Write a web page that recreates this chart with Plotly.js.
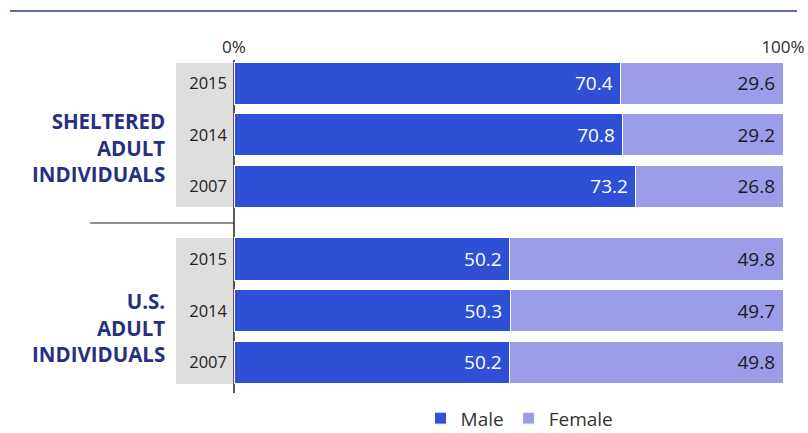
<!DOCTYPE html>
<html>
<head>
<meta charset="utf-8">
<script src="https://cdn.plot.ly/plotly-3.0.1.min.js"></script>
<style>html,body{margin:0;padding:0;background:#fff;}#chart{width:808px;height:433px;}</style>
</head>
<body>
<div id="chart"></div>
<script>
var years = ['2015', '2014', '2007'];
var shelteredMale = [70.4, 70.8, 73.2];
var shelteredFemale = [29.6, 29.2, 26.8];
var usMale = [50.2, 50.3, 50.2];
var usFemale = [49.8, 49.7, 49.8];
var groupLabels = ['SHELTERED<br>ADULT<br>INDIVIDUALS', 'U.S.<br>ADULT<br>INDIVIDUALS'];
var tickVals = [0, 100];
var tickText = ['0%', '100%'];

var maleColor = '#2f4fd6';
var femaleColor = '#9c9de8';
var fontFam = '"Open Sans", Lato, sans-serif';

function barTrace(x, name, color, textColor, yaxis, showlegend) {
  return {
    type: 'bar', orientation: 'h', x: x, y: years, name: name,
    xaxis: 'x', yaxis: yaxis, legendgroup: name, showlegend: showlegend,
    marker: {color: color, line: {color: '#ffffff', width: 1}},
    text: x.map(function (v) { return v.toFixed(1) + '\u00a0'; }),
    textposition: 'inside', insidetextanchor: 'end', textangle: 0,
    constraintext: 'none',
    textfont: {family: fontFam, size: 19, color: textColor},
    hoverinfo: 'x+y+name'
  };
}

var data = [
  barTrace(shelteredMale, 'Male', maleColor, '#ffffff', 'y', true),
  barTrace(shelteredFemale, 'Female', femaleColor, '#1a1a1a', 'y', true),
  barTrace(usMale, 'Male', maleColor, '#ffffff', 'y2', false),
  barTrace(usFemale, 'Female', femaleColor, '#1a1a1a', 'y2', false)
];

var yCommon = {
  type: 'category', autorange: 'reversed', showgrid: false, zeroline: false,
  showline: false, ticks: '', ticklabelstandoff: 6,
  tickfont: {family: fontFam, size: 16.5, color: '#222'},
  fixedrange: true
};

var layout = {
  width: 808, height: 433,
  margin: {l: 234, r: 25, t: 57, b: 40},
  paper_bgcolor: '#ffffff', plot_bgcolor: 'rgba(0,0,0,0)',
  barmode: 'stack', bargap: 0.18,
  xaxis: {
    range: [0, 100], side: 'top', showgrid: false, zeroline: false, showline: false,
    tickvals: tickVals, ticktext: tickText, ticks: '',
    tickfont: {family: fontFam, size: 17, color: '#2a2a2a'}, fixedrange: true
  },
  yaxis: Object.assign({domain: [0.5394, 0.9978], anchor: 'x'}, yCommon),
  yaxis2: Object.assign({domain: [0.0141, 0.4754], anchor: 'x'}, yCommon),
  legend: {
    orientation: 'h', xref: 'container', yref: 'container',
    x: 0.643, xanchor: 'center', y: 0.034, yanchor: 'middle',
    font: {family: fontFam, size: 19, color: '#333'}, traceorder: 'normal'
  },
  shapes: [
    {type: 'rect', xref: 'paper', yref: 'paper', x0: -0.1056, x1: -0.001, y0: 0.5536, y1: 0.9821,
     fillcolor: '#dedede', line: {width: 0}, layer: 'below'},
    {type: 'rect', xref: 'paper', yref: 'paper', x0: -0.1056, x1: -0.001, y0: 0.0268, y1: 0.4613,
     fillcolor: '#dedede', line: {width: 0}, layer: 'below'},
    {type: 'line', xref: 'paper', yref: 'paper', x0: 0, x1: 0, y0: 0, y1: 0.991,
     line: {color: '#222', width: 1.5}, layer: 'below'},
    {type: 'line', xref: 'paper', yref: 'paper', x0: -0.262, x1: 0, y0: 0.506, y1: 0.506,
     line: {color: '#222', width: 1.2}},
    {type: 'line', xref: 'paper', yref: 'paper', x0: -0.408, x1: 1.0255, y0: 1.137, y1: 1.137,
     line: {color: '#2d3a8c', width: 1.5}}
  ],
  annotations: [
    {xref: 'paper', yref: 'paper', x: -0.122, y: 0.732, xanchor: 'right', yanchor: 'middle',
     align: 'right', showarrow: false, text: '<b>' + groupLabels[0] + '</b>',
     font: {family: fontFam, size: 20.5, color: '#27307f'}},
    {xref: 'paper', yref: 'paper', x: -0.122, y: 0.196, xanchor: 'right', yanchor: 'middle',
     align: 'right', showarrow: false, text: '<b>' + groupLabels[1] + '</b>',
     font: {family: fontFam, size: 20.5, color: '#27307f'}}
  ]
};

Plotly.newPlot('chart', data, layout, {displayModeBar: false, staticPlot: true});
</script>
</body>
</html>
